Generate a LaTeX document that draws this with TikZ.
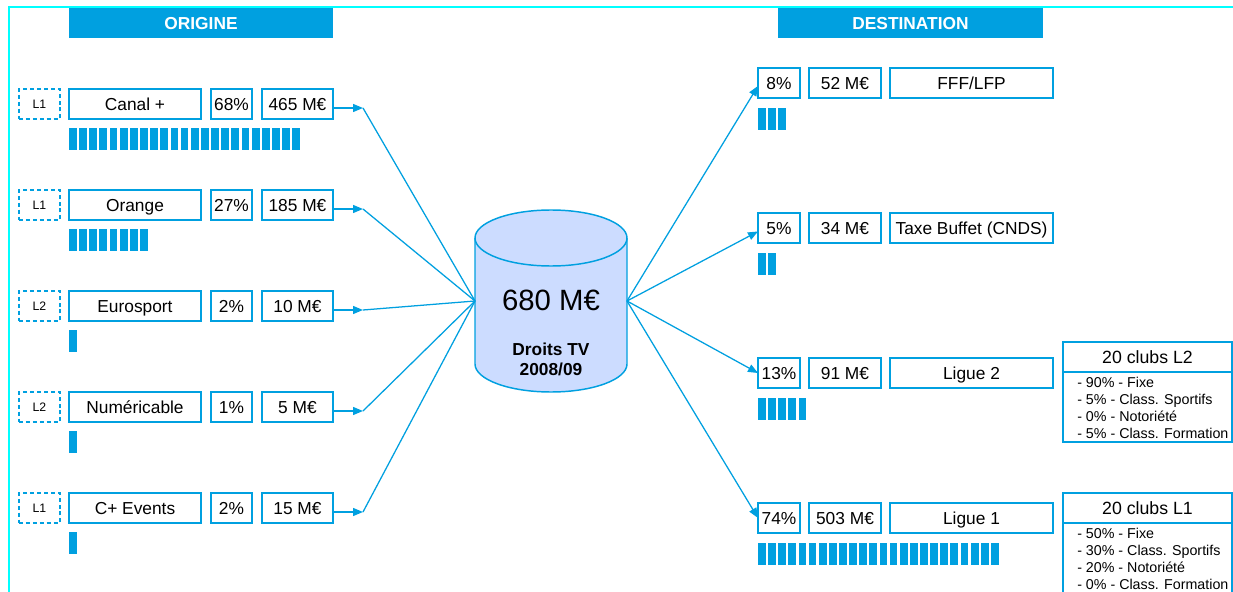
\documentclass[tikz,border=0pt]{standalone}
\usepackage{fontspec}
\setmainfont{Liberation Sans}
\usetikzlibrary{arrows.meta}
\definecolor{bblue}{RGB}{0,160,224}
\definecolor{cylfill}{RGB}{204,220,255}
\definecolor{frame}{RGB}{0,255,255}
\newcommand\bx[7][box]{\node[#1, minimum width={(#5-#3)*0.75pt}, minimum height={(#6-#4)*0.75pt}] (#2) at ({(#3+#5)/2},{(#4+#6)/2}) {#7};}
\begin{document}
\begin{tikzpicture}[x=0.75pt,y=-0.75pt,
  box/.style={draw=bblue, line width=1.1pt, fill=white, inner sep=0pt, outer sep=0pt, text height=9.3pt, text depth=0pt, font=\fontsize{13}{15}\selectfont},
  lbox/.style={box, dash pattern=on 3pt off 2.2pt, text height=6.6pt, font=\fontsize{9.2}{11}\selectfont},
  hdr/.style={fill=bblue, inner sep=0pt, outer sep=0pt, text=white, text height=9.3pt, text depth=0pt, font=\fontsize{13}{15}\selectfont\bfseries},
  clubh/.style={box, text height=9.5pt, font=\fontsize{13.3}{15}\selectfont},
  list/.style={inner sep=0pt, align=left, font=\fontsize{10.7}{12.75}\selectfont},
  bar/.style={fill=bblue},
  conn/.style={draw=bblue, line width=0.95pt},
  arr/.style={conn, -{Triangle[length=7.5pt,width=6pt]}}]
\useasboundingbox (0,0) rectangle (1233,592);
\clip (0,0) rectangle (1233,592);
\fill[white] (0,0) rectangle (1233,592);
% frame
\draw[frame, line width=1.5pt] (9,600) -- (9,7) -- (1240,7);
% headers
\bx[hdr]{horig}{69}{8}{333}{38}{ORIGINE}
\bx[hdr]{hdest}{778}{8}{1043}{38}{DESTINATION}
% cylinder
\node[minimum width=114pt, minimum height=136.5pt, inner sep=0pt, outer sep=0pt] (cyl) at (551,301) {};
\fill[cylfill] (475,238) -- (475,364) arc[start angle=180, end angle=360, x radius=57pt, y radius=21pt] -- (627,238) -- cycle;
\draw[bblue, line width=1.1pt] (475,238) -- (475,364) arc[start angle=180, end angle=360, x radius=57pt, y radius=21pt] -- (627,238);
\filldraw[fill=cylfill, draw=bblue, line width=1.1pt] (551,238) ellipse [x radius=57pt, y radius=21pt];
\node[inner sep=0pt, font=\fontsize{22}{26}\selectfont] (tot) at (551,300) {680 M€};
\node[inner sep=0pt, align=center, font=\fontsize{13}{15}\selectfont\bfseries] (dtv) at (551,359) {Droits TV\\2008/09};
% origin rows
\foreach \ri/\rl/\rn/\rp/\ra/\rb/\ry in {1/L1/Canal +/68\%/465 M€/23/89, 2/L1/Orange/27\%/185 M€/8/190, 3/L2/Eurosport/2\%/10 M€/1/291, 4/L2/Numéricable/1\%/5 M€/1/392, 5/L1/C+ Events/2\%/15 M€/1/493}{
  \pgfmathsetmacro\yb{\ry+30}
  \bx[lbox]{l\ri}{19}{\ry}{60}{\yb}{\rl}
  \bx{n\ri}{69}{\ry}{201}{\yb}{\rn}
  \bx{p\ri}{211}{\ry}{252}{\yb}{\rp}
  \bx{a\ri}{262}{\ry}{333}{\yb}{\ra}
  \coordinate (k\ri) at ({363},{\ry+19});
  \draw[arr] ([yshift=-3pt]a\ri.east) -- (k\ri);
  \draw[conn] (k\ri) -- (cyl.west);
  \foreach \j in {1,...,\rb} \fill[bar] ({69+(\j-1)*10.15},{\ry+39}) rectangle ++(7.8,22);
}
% destination rows
\bx{q1}{758}{68}{800}{98}{8\%}
\bx{m1}{809}{68}{881}{98}{52 M€}
\bx{d1}{890}{68}{1053}{98}{FFF/LFP}
\bx{q2}{758}{213}{800}{243}{5\%}
\bx{m2}{809}{213}{881}{243}{34 M€}
\bx{d2}{890}{213}{1053}{243}{Taxe Buffet (CNDS)}
\bx{q3}{758}{358}{800}{388}{13\%}
\bx{m3}{809}{358}{881}{388}{91 M€}
\bx{d3}{890}{358}{1053}{388}{Ligue 2}
\bx{q4}{758}{503}{800}{533}{74\%}
\bx{m4}{809}{503}{881}{533}{503 M€}
\bx{d4}{890}{503}{1053}{533}{Ligue 1}
\draw[arr] (cyl.east) -- ([yshift=-2.2pt]q1.west);
\draw[arr] (cyl.east) -- ([yshift=-2.6pt]q2.west);
\draw[arr] (cyl.east) -- (q3.west);
\draw[arr] (cyl.east) -- (q4.west);
\foreach \nb/\ty in {3/68, 2/213, 5/358, 24/503}
  \foreach \j in {1,...,\nb} \fill[bar] ({758+(\j-1)*10.13},{\ty+40}) rectangle ++(7.8,22);
% clubs boxes
\bx{c2}{1063}{342}{1232}{442}{}
\bx[clubh]{c2h}{1063}{342}{1232}{372}{20 clubs L2}
\node[list, anchor=north west] (c2t) at (1077,377) {- 90\% - Fixe\\- 5\% - Class. Sportifs\\- 0\% - Notoriété\\- 5\% - Class. Formation};
\bx{c1}{1063}{493}{1232}{610}{}
\bx[clubh]{c1h}{1063}{493}{1232}{523}{20 clubs L1}
\node[list, anchor=north west] (c1t) at (1077,528) {- 50\% - Fixe\\- 30\% - Class. Sportifs\\- 20\% - Notoriété\\- 0\% - Class. Formation};
\end{tikzpicture}
\end{document}
